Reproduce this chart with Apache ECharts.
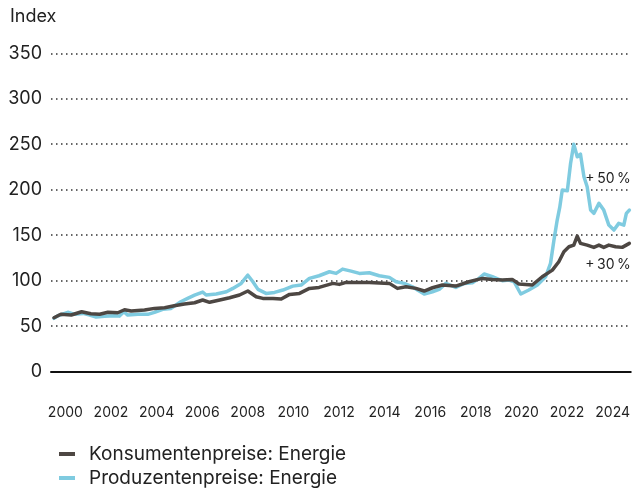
<!DOCTYPE html>
<html>
<head>
<meta charset="utf-8">
<script src="https://cdn.jsdelivr.net/npm/echarts@6/dist/echarts.min.js"></script>
<style>
html,body{margin:0;padding:0;background:#fff;}
#chart{width:633px;height:489px;}
</style>
</head>
<body>
<div id="chart"></div>
<script>
// ---- Data ----
const seriesNames = ['Konsumentenpreise: Energie', 'Produzentenpreise: Energie'];
const yTicks = [0, 50, 100, 150, 200, 250, 300, 350];
const xTickYears = [2000, 2002, 2004, 2006, 2008, 2010, 2012, 2014, 2016, 2018, 2020, 2022, 2024];

const consumerTimes = [2000.0,2000.303,2000.758,2001.213,2001.618,2002.002,2002.366,2002.8,2003.093,2003.387,2003.973,2004.408,2004.853,2005.277,2005.722,2006.167,2006.521,2006.824,2007.269,2007.703,2008.138,2008.502,2008.866,2009.159,2009.604,2009.968,2010.332,2010.767,2011.201,2011.626,2012.232,2012.515,2012.809,2013.395,2013.83,2014.709,2015.063,2015.437,2015.872,2016.236,2016.6,2017.034,2017.621,2018.197,2018.783,2019.228,2019.663,2020.097,2020.391,2020.977,2021.412,2021.857,2022.14,2022.362,2022.584,2022.797,2022.948,2023.09,2023.383,2023.676,2023.899,2024.111,2024.333,2024.627,2024.92,2025.233];
const consumerValues = [59.2,63,62.2,65.8,63.6,63,65.2,64.7,68,66.6,67.7,69.5,70.2,72.4,74.3,75.7,78.7,76.2,78.7,81.2,84.2,88.6,82.3,80.5,80.5,79.8,84.9,86,91.5,92.6,97,95.9,98.1,98.1,98.1,97,91.5,93.3,91.5,88.6,92.2,95.2,94,98.8,102.5,101.4,100.7,101.4,96.3,95.2,104.3,111.6,120.8,131.8,137.3,139.1,149,141,139.1,136.6,139.1,136.6,139.1,137.3,136.6,141];

const producerTimes = [2000.0,2000.172,2000.607,2000.91,2001.274,2001.567,2001.85,2002.224,2002.659,2002.871,2003.063,2003.235,2003.68,2004.115,2004.408,2004.772,2005.136,2005.56,2005.863,2006.167,2006.521,2006.672,2007.117,2007.562,2007.845,2008.209,2008.502,2008.724,2008.947,2009.301,2009.675,2010.039,2010.473,2010.837,2011.201,2011.626,2012.081,2012.374,2012.657,2013.031,2013.395,2013.83,2014.264,2014.709,2015.002,2015.366,2015.72,2015.943,2016.236,2016.6,2016.893,2017.186,2017.621,2017.995,2018.349,2018.642,2018.864,2019.228,2019.663,2019.956,2020.178,2020.472,2020.825,2021.199,2021.563,2021.776,2021.927,2022.069,2022.18,2022.291,2022.514,2022.655,2022.797,2022.948,2023.09,2023.242,2023.383,2023.535,2023.676,2023.899,2024.111,2024.333,2024.556,2024.768,2024.99,2025.102,2025.233];
const producerValues = [58.6,61.4,65.2,63,64,62.2,60,60.8,61.4,61,65.8,62.2,63,63,65.2,68.5,69.5,76.8,80.5,84,87.5,84.2,85.3,87.8,91.5,97,106,98.8,90.4,86,87.1,89.7,94,95.2,102.5,105.4,109.8,108,112.7,110.5,108,108.7,105.4,103.6,98.8,97,93.3,89.7,85.3,87.8,90.4,97,92.6,97,97.7,102.5,107.3,104.3,99.9,100.7,98.8,85.3,89.7,95.2,104.3,119,144.6,166.6,180.5,199.6,198.8,228.9,250.1,236.2,239.1,214.2,203.2,177.6,174,185,177.6,161.1,155.6,163,161.1,174,177.6];

const annotations = [
  { text: '+\u200950\u2009%', value: 212 },
  { text: '+\u200930\u2009%', value: 117 }
];

// ---- Chart ----
const FONT = 'Inter, "Noto Sans", sans-serif';
const TEXT = '#222';
const GRAY = '#4d4743';
const BLUE = '#7fcbe0';
const X_MIN = 1999.87, X_MAX = 2025.295;

const chart = echarts.init(document.getElementById('chart'), null, { renderer: 'canvas' });

function zip(xs, ys) { return xs.map((x, i) => [x, ys[i]]); }

chart.setOption({
  animation: false,
  backgroundColor: '#fff',
  textStyle: { fontFamily: FONT, color: TEXT },
  grid: { left: 51, right: 1, top: 53.3, bottom: 117.4, containLabel: false },
  graphic: [{
    type: 'text', left: 10, top: 8,
    style: { text: 'Index', font: '18px ' + FONT, fill: TEXT }
  }],
  legend: {
    orient: 'vertical', left: 59, top: 444, padding: 0,
    icon: 'rect', itemWidth: 16, itemHeight: 4, itemGap: 4,
    textStyle: { fontFamily: FONT, fontSize: 19, color: TEXT, lineHeight: 20, padding: [0, 0, 0, 9] },
    data: seriesNames
  },
  xAxis: {
    type: 'value', min: X_MIN, max: X_MAX,
    axisLine: { show: true, onZero: true, lineStyle: { color: '#111', width: 2 } },
    axisTick: { show: false },
    splitLine: { show: false },
    axisLabel: {
      customValues: xTickYears.map(y => y + 0.5),
      formatter: v => String(Math.floor(v)),
      fontFamily: FONT, fontSize: 14, color: TEXT, margin: 34
    }
  },
  yAxis: {
    type: 'value', min: 0, max: 350, interval: 50,
    axisLine: { show: false }, axisTick: { show: false },
    axisLabel: { fontFamily: FONT, fontSize: 18, color: TEXT, margin: 9,
      formatter: v => yTicks.includes(v) ? String(v) : '' },
    splitLine: { show: true, lineStyle: { color: '#333', width: 1.5, type: [1.5, 3.5] } }
  },
  series: [
    {
      name: seriesNames[0], type: 'line', data: zip(consumerTimes, consumerValues),
      showSymbol: false, symbol: 'none',
      lineStyle: { color: GRAY, width: 3.5, join: 'round', cap: 'round' },
      itemStyle: { color: GRAY }, z: 3,
      markPoint: {
        symbol: 'circle', symbolSize: 0, silent: true,
        label: { show: true, position: 'left', distance: 0, fontFamily: FONT, fontSize: 14, color: TEXT,
          formatter: annotations[1].text },
        data: [{ coord: [X_MAX, annotations[1].value] }]
      }
    },
    {
      name: seriesNames[1], type: 'line', data: zip(producerTimes, producerValues),
      showSymbol: false, symbol: 'none',
      lineStyle: { color: BLUE, width: 3.5, join: 'round', cap: 'round' },
      itemStyle: { color: BLUE }, z: 2,
      markPoint: {
        symbol: 'circle', symbolSize: 0, silent: true,
        label: { show: true, position: 'left', distance: 0, fontFamily: FONT, fontSize: 14, color: TEXT,
          formatter: annotations[0].text },
        data: [{ coord: [X_MAX, annotations[0].value] }]
      }
    }
  ]
});
</script>
</body>
</html>
